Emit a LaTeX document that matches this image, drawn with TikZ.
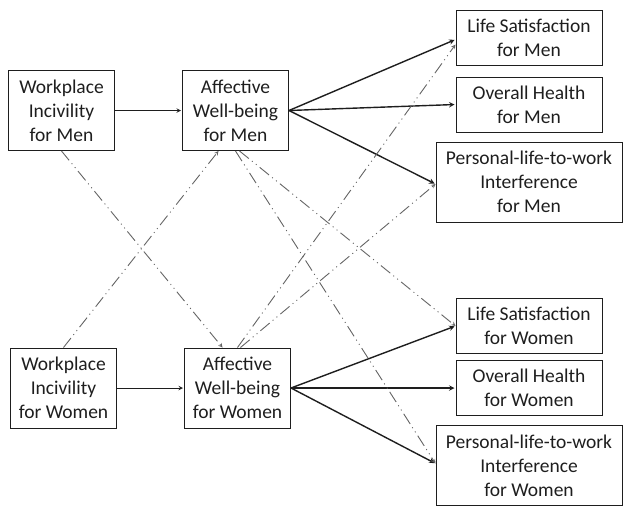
\documentclass[tikz,border=0pt]{standalone}
\usepackage{fontspec}
\setmainfont{Carlito}
\usepackage{tikz}
\usetikzlibrary{arrows, positioning}
\definecolor{frame}{RGB}{30, 30, 30}
\definecolor{cross}{RGB}{100, 100, 100}

\begin{document}
\begin{tikzpicture}[
    x=1pt, y=1pt,
    node distance=10pt,
    pbox/.style={rectangle, draw=frame, line width=1pt, minimum width=106pt, minimum height=80pt, inner sep=1pt, align=center, text=frame, font=\fontsize{19.5}{24}\selectfont},
    obox/.style={pbox, minimum width=146pt, minimum height=55pt},
    wbox/.style={pbox, minimum width=186pt, minimum height=80pt},
    arrow/.style={->, >=stealth, line width=1.4pt, draw=frame, shorten >=1pt},
    thin arrow/.style={arrow, line width=1pt},
    cross arrow/.style={->, >=stealth, line width=0.9pt, draw=cross, dash pattern=on 12pt off 4pt on 1pt off 4pt on 1pt off 4pt}
]
    \useasboundingbox (0,0) rectangle (624,-506);
    % men
    \node[pbox] (wim) at (61.5,-110.5) {Workplace\\Incivility\\for Men};
    \node[pbox, right=67pt of wim] (awm) {Affective\\Well-being\\for Men};
    \node[obox] (lsm) at (529,-37.5) {Life Satisfaction\\for Men};
    \node[obox, below=11pt of lsm] (ohm) {Overall Health\\for Men};
    \node[wbox, below=9pt of ohm] (pim) {Personal-life-to-work\\Interference\\for Men};
    % women
    \node[pbox] (wiw) at (63.5,-388) {Workplace\\Incivility\\for Women};
    \node[pbox, right=67pt of wiw] (aww) {Affective\\Well-being\\for Women};
    \node[obox] (lsw) at (529,-326) {Life Satisfaction\\for Women};
    \node[obox, below=6pt of lsw] (ohw) {Overall Health\\for Women};
    \node[wbox, below=9pt of ohw] (piw) {Personal-life-to-work\\Interference\\for Women};

    \draw[thin arrow] (wim) -- (awm);
    \draw[arrow] (awm.east) -- ([yshift=-2pt]lsm.west);
    \draw[arrow] (awm.east) -- (ohm.west);
    \draw[arrow] (awm.east) -- ([yshift=-2pt]pim.west);
    \draw[thin arrow] (wiw) -- (aww);
    \draw[arrow] (aww.east) -- (lsw.west);
    \draw[arrow] (aww.east) -- (ohw.west);
    \draw[arrow] (aww.east) -- ([yshift=2pt]piw.west);

    % cross paths
    \draw[cross arrow] (wim.south) -- ([xshift=-15pt]aww.north);
    \draw[cross arrow] (wiw.north) -- ([xshift=-17pt]awm.south);
    \draw[cross arrow] ([xshift=4pt]awm.south) -- (lsw.west);
    \draw[cross arrow] (awm.south) -- ([yshift=2pt]piw.west);
    \draw[cross arrow] (aww.north) -- ([yshift=-7pt]lsm.west);
    \draw[cross arrow] ([xshift=3pt]aww.north) -- ([yshift=-2pt]pim.west);
\end{tikzpicture}
\end{document}
